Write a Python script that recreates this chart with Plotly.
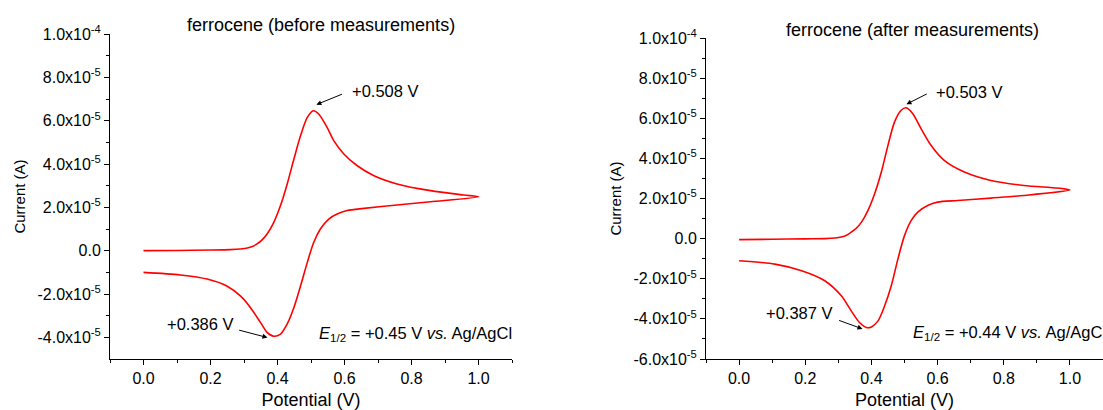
import plotly.graph_objects as go

# ---------------- data ----------------
# Left panel: ferrocene (before measurements); current in units of 1e-5 A
before_fwd_E = [0.0, 0.10, 0.20, 0.26, 0.29, 0.31, 0.325, 0.339, 0.354, 0.369, 0.389, 0.409, 0.429, 0.449, 0.469,
                0.489, 0.507, 0.523, 0.548, 0.568, 0.598, 0.638, 0.688, 0.757, 0.857, 0.956, 1.0]
before_fwd_I = [0.0, 0.01, 0.03, 0.05, 0.08, 0.12, 0.19, 0.31, 0.50, 0.77, 1.31, 2.08, 3.08, 4.23, 5.31,
                6.15, 6.46, 6.31, 5.69, 5.08, 4.46, 3.92, 3.46, 3.08, 2.77, 2.57, 2.49]
before_rev_E = [1.0, 0.857, 0.757, 0.658, 0.608, 0.578, 0.553, 0.528, 0.508, 0.489, 0.469, 0.449,
                0.429, 0.409, 0.389, 0.369, 0.349, 0.319, 0.29, 0.25, 0.19, 0.11, 0.0]
before_rev_I = [2.49, 2.26, 2.11, 1.95, 1.85, 1.69, 1.46, 1.00, 0.38, -0.54, -1.62, -2.62,
                -3.38, -3.85, -3.95, -3.77, -3.31, -2.62, -2.10, -1.64, -1.31, -1.12, -1.00]

# Right panel: ferrocene (after measurements)
after_fwd_E = [0.0, 0.10, 0.20, 0.259, 0.29, 0.309, 0.325, 0.339, 0.355, 0.37, 0.39, 0.41, 0.43, 0.45, 0.47,
               0.49, 0.505, 0.525, 0.55, 0.58, 0.62, 0.681, 0.761, 0.861, 0.962, 1.0]
after_fwd_I = [-0.05, -0.03, -0.01, 0.0, 0.03, 0.08, 0.17, 0.32, 0.53, 0.82, 1.42, 2.25, 3.32, 4.65, 5.82,
               6.40, 6.52, 6.23, 5.48, 4.65, 3.90, 3.32, 2.90, 2.65, 2.52, 2.43]
after_rev_E = [1.0, 0.861, 0.761, 0.661, 0.60, 0.57, 0.54, 0.52, 0.50, 0.48, 0.46, 0.44,
               0.42, 0.40, 0.385, 0.364, 0.339, 0.309, 0.259, 0.189, 0.108, 0.0]
after_rev_I = [2.43, 2.15, 2.02, 1.90, 1.82, 1.65, 1.32, 0.90, 0.15, -1.02, -2.35, -3.35,
               -4.10, -4.40, -4.43, -4.18, -3.60, -2.85, -2.10, -1.60, -1.27, -1.10]

titles = ["ferrocene (before measurements)", "ferrocene (after measurements)"]
ox_labels = ["+0.508 V", "+0.503 V"]
red_labels = ["+0.386 V", "+0.387 V"]
e_half = ["+0.45 V", "+0.44 V"]

x_ticks = [0.0, 0.2, 0.4, 0.6, 0.8, 1.0]
x_ticktext = ["0.0", "0.2", "0.4", "0.6", "0.8", "1.0"]
x_minor = [-0.1, 0.1, 0.3, 0.5, 0.7, 0.9, 1.1]

y_ticks_left = [-4e-5, -2e-5, 0, 2e-5, 4e-5, 6e-5, 8e-5, 1e-4]
y_ticks_right = [-6e-5, -4e-5, -2e-5, 0, 2e-5, 4e-5, 6e-5, 8e-5, 1e-4]


def ylab(v):
    if v == 0:
        return "0.0"
    import math
    e = int(math.floor(math.log10(abs(v)) + 1e-9))
    m = v / 10 ** e
    return f"{m:.1f}x10<sup>{e}</sup>"


FONT = "Arial, 'Liberation Sans', sans-serif"
S = 1e-5

fig = go.Figure()
fig.add_trace(go.Scatter(x=before_fwd_E + before_rev_E[1:],
                         y=[v * S for v in before_fwd_I + before_rev_I[1:]],
                         mode="lines", line=dict(color="#ff0000", width=1.6, shape="spline", smoothing=0.8),
                         xaxis="x", yaxis="y", showlegend=False))
fig.add_trace(go.Scatter(x=after_fwd_E + after_rev_E[1:],
                         y=[v * S for v in after_fwd_I + after_rev_I[1:]],
                         mode="lines", line=dict(color="#ff0000", width=1.6, shape="spline", smoothing=0.8),
                         xaxis="x2", yaxis="y2", showlegend=False))

W, H = 1103, 410
axis_common = dict(showline=True, linecolor="black", linewidth=1, ticks="outside", ticklen=5,
                   tickcolor="black", showgrid=False, zeroline=False, mirror=False, automargin=False,
                   tickfont=dict(family=FONT, size=16, color="black"))

xcommon = dict(axis_common, range=[-0.1, 1.1], tickmode="array", tickvals=x_ticks, ticktext=x_ticktext,
               minor=dict(tickmode="array", tickvals=x_minor, ticklen=3, ticks="outside", tickcolor="black"),
               title=dict(text="Potential (V)", font=dict(family=FONT, size=18, color="black"), standoff=7))

ytitle = dict(text="Current (A)", font=dict(family=FONT, size=15, color="black"), standoff=8)

fig.update_layout(
    width=W, height=H, margin=dict(l=0, r=0, t=0, b=0, autoexpand=False),
    paper_bgcolor="white", plot_bgcolor="white",
    xaxis=dict(xcommon, domain=[110 / W, 512 / W], anchor="y"),
    xaxis2=dict(xcommon, domain=[706 / W, 1.0], anchor="y2"),
    yaxis=dict(axis_common, domain=[1 - 359 / H, 1 - 34 / H], anchor="x", range=[-5e-5, 1e-4],
               tickmode="array", tickvals=y_ticks_left, ticktext=[ylab(v) for v in y_ticks_left],
               minor=dict(tickmode="array", tickvals=[-3e-5, -1e-5, 1e-5, 3e-5, 5e-5, 7e-5, 9e-5],
                          ticklen=3, ticks="outside", tickcolor="black"),
               title=ytitle),
    yaxis2=dict(axis_common, domain=[1 - 359 / H, 1 - 38 / H], anchor="x2", range=[-6e-5, 1e-4],
                tickmode="array", tickvals=y_ticks_right, ticktext=[ylab(v) for v in y_ticks_right],
                minor=dict(tickmode="array", tickvals=[-5e-5, -3e-5, -1e-5, 1e-5, 3e-5, 5e-5, 7e-5, 9e-5],
                           ticklen=3, ticks="outside", tickcolor="black"),
                title=ytitle),
    font=dict(family=FONT, color="black"),
)

ann = []
# panel titles
ann.append(dict(text=titles[0], xref="paper", yref="paper", x=321 / W, y=1 - 25 / H,
                xanchor="center", yanchor="middle",
                showarrow=False, font=dict(family=FONT, size=18, color="black")))
ann.append(dict(text=titles[1], xref="paper", yref="paper", x=912 / W, y=1 - 30 / H,
                xanchor="center", yanchor="middle",
                showarrow=False, font=dict(family=FONT, size=18, color="black")))

tf = dict(family=FONT, size=16.5, color="black")
# left panel labels
ann += [
    dict(xref="x", yref="y", x=0.516, y=6.74e-5, ax=0.597, ay=7.25e-5, axref="x", ayref="y", text="",
         showarrow=True, arrowhead=2, arrowsize=1, arrowwidth=1, arrowcolor="black"),
    dict(xref="x", yref="y", x=0.615, y=7.38e-5, text=ox_labels[0], showarrow=False, xanchor="left", font=tf),
    dict(xref="x", yref="y", x=0.370, y=-4.01e-5, ax=0.281, ay=-3.65e-5, axref="x", ayref="y", text="",
         showarrow=True, arrowhead=2, arrowsize=1, arrowwidth=1, arrowcolor="black"),
    dict(xref="x", yref="y", x=0.275, y=-3.37e-5, text=red_labels[0], showarrow=False, xanchor="right", font=tf),
    dict(xref="x", yref="y", x=0.519, y=-3.83e-5, xanchor="left", showarrow=False, font=tf,
         text=f"<i>E</i><sub>1/2</sub> = {e_half[0]} <i>vs.</i> Ag/AgCl"),
]
# right panel labels
ann += [
    dict(xref="x2", yref="y2", x=0.506, y=6.7e-5, ax=0.572, ay=7.25e-5, axref="x2", ayref="y2", text="",
         showarrow=True, arrowhead=2, arrowsize=1, arrowwidth=1, arrowcolor="black"),
    dict(xref="x2", yref="y2", x=0.590, y=7.3e-5, text=ox_labels[1], showarrow=False, xanchor="left", font=tf),
    dict(xref="x2", yref="y2", x=0.373, y=-4.5e-5, ax=0.298, ay=-4.05e-5, axref="x2", ayref="y2", text="",
         showarrow=True, arrowhead=2, arrowsize=1, arrowwidth=1, arrowcolor="black"),
    dict(xref="x2", yref="y2", x=0.289, y=-3.7e-5, text=red_labels[1], showarrow=False, xanchor="right", font=tf),
    dict(xref="x2", yref="y2", x=0.521, y=-4.7e-5, xanchor="left", showarrow=False, font=tf,
         text=f"<i>E</i><sub>1/2</sub> = {e_half[1]} <i>vs.</i> Ag/AgCl"),
]
fig.update_layout(annotations=ann)

fig.write_html("out.html", config={"displayModeBar": False},
               post_script="document.body.style.margin='0';document.body.style.overflow='hidden';")
